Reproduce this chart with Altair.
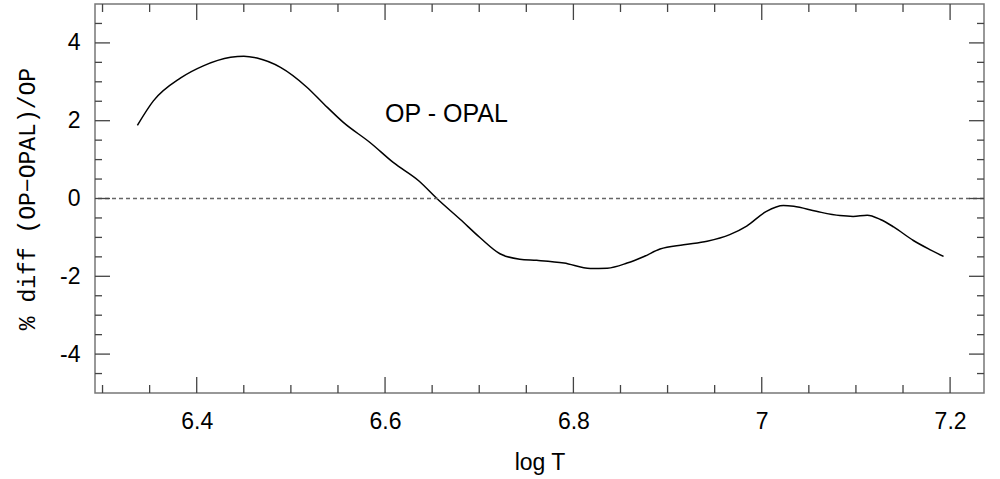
import altair as alt
import pandas as pd

# Curve: log T vs % diff (OP-OPAL)/OP
logT = [6.337, 6.354, 6.383, 6.407, 6.436, 6.450, 6.464, 6.489, 6.517, 6.535,
        6.556, 6.584, 6.609, 6.636, 6.655, 6.680, 6.701, 6.722, 6.743, 6.761,
        6.790, 6.818, 6.836, 6.857, 6.875, 6.892, 6.917, 6.942, 6.966, 6.984,
        7.005, 7.023, 7.034, 7.058, 7.083, 7.097, 7.112, 7.126, 7.140, 7.161,
        7.179, 7.193]
pdiff = [1.88, 2.51, 3.10, 3.41, 3.63, 3.66, 3.61, 3.37, 2.86, 2.43,
         1.95, 1.44, 0.92, 0.45, 0.00, -0.54, -1.01, -1.42, -1.56, -1.59,
         -1.66, -1.80, -1.79, -1.66, -1.49, -1.30, -1.19, -1.10, -0.93, -0.71,
         -0.33, -0.18, -0.20, -0.33, -0.44, -0.46, -0.43, -0.54, -0.73, -1.08,
         -1.32, -1.49]

x_major = [6.4, 6.6, 6.8, 7.0, 7.2]
x_minor = [6.30, 6.35, 6.45, 6.50, 6.55, 6.65, 6.70, 6.75, 6.85, 6.90, 6.95,
           7.05, 7.10, 7.15]
y_major = [-4, -2, 0, 2, 4]
y_minor = [-4.5, -3.5, -3, -2.5, -1.5, -1, -0.5, 0.5, 1, 1.5, 2.5, 3, 3.5, 4.5]

annotation = "OP - OPAL"
annotation_pos = [6.6, 1.96]
x_title = "log T"
y_title = "% diff (OP\u2212OPAL)/OP"

W, H = 889, 389
XMAJ, XMIN = 16, 8
YMAJ, YMIN = 15, 7
TICK_COLOR = "#444444"
FONT = "Liberation Sans"

xscale = alt.Scale(domain=[6.292, 7.236], nice=False, zero=False)
yscale = alt.Scale(domain=[-5, 5], nice=False, zero=False)

xaxis = alt.Axis(values=x_major, ticks=False, tickSize=0, domain=False, grid=False,
                 labelExpr="toString(datum.value)", labelFont=FONT, labelFontSize=23,
                 labelColor="black", labelPadding=17, title=x_title, titleFont=FONT,
                 titleFontSize=23, titleFontWeight="normal", titleColor="black",
                 titlePadding=18)
yaxis = alt.Axis(values=y_major, ticks=False, tickSize=0, domain=False, grid=False,
                 labelExpr="toString(datum.value)", labelFont=FONT, labelFontSize=23,
                 labelColor="black", labelPadding=15, title=y_title,
                 titleFont="Liberation Mono", titleFontSize=23,
                 titleFontWeight="normal", titleColor="black", titlePadding=20)

curve_df = pd.DataFrame({"logT": logT, "pdiff": pdiff})
one_df = pd.DataFrame({"k": [0]})
xmaj_df = pd.DataFrame({"t": x_major})
xmin_df = pd.DataFrame({"t": x_minor})
ymaj_df = pd.DataFrame({"t": y_major})
ymin_df = pd.DataFrame({"t": y_minor})

curve = alt.Chart(curve_df).mark_line(color="black", strokeWidth=1.5, interpolate="monotone").encode(
    x=alt.X("logT:Q", scale=xscale, axis=xaxis, title=x_title),
    y=alt.Y("pdiff:Q", scale=yscale, axis=yaxis, title=y_title),
)

zero = alt.Chart(one_df).mark_rule(color="#666666", strokeWidth=1.3, strokeDash=[4, 3]).encode(
    y=alt.datum(0, scale=yscale, axis=yaxis, title=y_title)
)

label = alt.Chart(one_df).mark_text(text=annotation, font=FONT, fontSize=25, align="left",
                                    baseline="alphabetic", color="black").encode(
    x=alt.datum(annotation_pos[0], scale=xscale, axis=xaxis, title=x_title),
    y=alt.datum(annotation_pos[1], scale=yscale, axis=yaxis, title=y_title),
)


def xticks(df, length):
    bottom = alt.Chart(df).mark_rule(color=TICK_COLOR, strokeWidth=1.3).encode(
        x=alt.X("t:Q", scale=xscale, axis=xaxis, title=x_title),
        y=alt.value(H), y2=alt.value(H - length))
    top = alt.Chart(df).mark_rule(color=TICK_COLOR, strokeWidth=1.3).encode(
        x=alt.X("t:Q", scale=xscale, axis=xaxis, title=x_title),
        y=alt.value(0), y2=alt.value(length))
    return [bottom, top]


def yticks(df, length):
    left = alt.Chart(df).mark_rule(color=TICK_COLOR, strokeWidth=1.3).encode(
        y=alt.Y("t:Q", scale=yscale, axis=yaxis, title=y_title),
        x=alt.value(0), x2=alt.value(length))
    right = alt.Chart(df).mark_rule(color=TICK_COLOR, strokeWidth=1.3).encode(
        y=alt.Y("t:Q", scale=yscale, axis=yaxis, title=y_title),
        x=alt.value(W), x2=alt.value(W - length))
    return [left, right]


layers = [curve, zero, label] + xticks(xmaj_df, XMAJ) + xticks(xmin_df, XMIN) \
    + yticks(ymaj_df, YMAJ) + yticks(ymin_df, YMIN)

chart = alt.layer(*layers).properties(
    width=W, height=H,
    autosize=alt.AutoSizeParams(type="none"),
    padding={"left": 95, "top": 4, "right": 16, "bottom": 86},
    background="white",
).configure_view(stroke="#777777", strokeWidth=1.5)

chart.save("out.html", embed_options={"renderer": "svg", "actions": False})
